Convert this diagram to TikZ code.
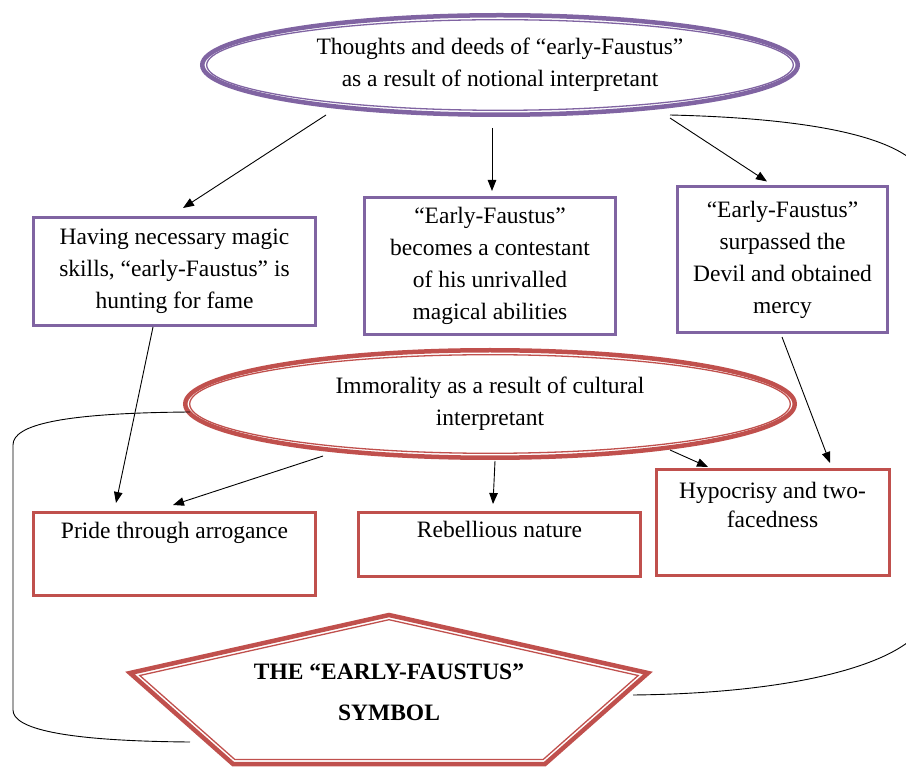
\documentclass[tikz,border=0pt]{standalone}
\usepackage{fontspec}
\setmainfont{Liberation Serif}
\usetikzlibrary{arrows.meta,calc,shapes.geometric}
\definecolor{fpurple}{HTML}{8064A2}
\definecolor{fred}{HTML}{C0504D}
\tikzset{
  txt/.style={font=\fontsize{23.5}{32}\selectfont, align=center, inner sep=0pt},
  pbox/.style={draw=fpurple, line width=3pt, inner sep=0pt, outer sep=0pt},
  rbox/.style={draw=fred, line width=3pt, inner sep=0pt, outer sep=0pt},
  oval/.style={ellipse, line width=4.5pt, inner sep=0pt, outer sep=0pt},
  arr/.style={draw=black, line width=0.9pt, -{Triangle[length=11pt,width=8.5pt]}},
  bracket/.style={draw=black, line width=0.9pt},
}
\begin{document}
\begin{tikzpicture}[x=1pt,y=-1pt]
\useasboundingbox (0,0) rectangle (906,767);
\clip (0,0) rectangle (906,767);

% ellipses
\node[oval, draw=fpurple, minimum width=595.5pt, minimum height=99.5pt, txt] (topE) at (500,65)
  {Thoughts and deeds of “early-Faustus”\\as a result of notional interpretant};
\draw[fpurple, line width=1.3pt] (topE.center) ellipse [x radius=293.3pt, y radius=45.3pt];

\node[oval, draw=fred, minimum width=609.5pt, minimum height=107.5pt, txt] (redE) at (490,404)
  {Immorality as a result of cultural\\interpretant};
\draw[fred, line width=1.3pt] (redE.center) ellipse [x radius=300.3pt, y radius=49.3pt];

% purple boxes
\node[pbox, minimum width=282pt, minimum height=108pt, txt] (b1) at (174.5,271.5)
  {Having necessary magic\\skills, “early-Faustus” is\\hunting for fame};
\node[pbox, minimum width=251pt, minimum height=137pt, txt] (b2) at (490,266)
  {“Early-Faustus”\\becomes a contestant\\of his unrivalled\\magical abilities};
\node[pbox, minimum width=210pt, minimum height=146pt, txt] (b3) at (782.5,259.5)
  {“Early-Faustus”\\surpassed the\\Devil and obtained\\mercy};

% red boxes
\node[rbox, minimum width=282pt, minimum height=83pt] (rb1) at (174.5,554) {};
\node[txt, anchor=base] (rb1t) at ($(rb1.north)+(0,26.5)$) {Pride through arrogance};
\node[rbox, minimum width=282pt, minimum height=64pt] (rb2) at (499.5,544.5) {};
\node[txt, anchor=base] (rb2t) at ($(rb2.north)+(0,24.5)$) {Rebellious nature};
\node[rbox, minimum width=233pt, minimum height=106pt] (rb3) at (772.5,522.5) {};
\node[txt, font=\fontsize{23.5}{29}\selectfont, anchor=north] (rb3t) at ($(rb3.north)+(0,12)$)
  {Hypocrisy and two-\\facedness};

% pentagon
\coordinate (pT) at (389,615);
\coordinate (pR) at (648,673);
\coordinate (pBR) at (545,764);
\coordinate (pBL) at (233,764);
\coordinate (pL) at (130,673);
\draw[fred, line width=4.5pt, line join=miter] (pT) -- (pR) -- (pBR) -- (pBL) -- (pL) -- cycle;
\coordinate (qT) at (389,619.7);
\coordinate (qR) at (638.2,675.5);
\coordinate (qBR) at (543.3,759.4);
\coordinate (qBL) at (234.7,759.4);
\coordinate (qL) at (139.8,675.5);
\draw[fred, line width=1.3pt, line join=miter] (qT) -- (qR) -- (qBR) -- (qBL) -- (qL) -- cycle;
\node[txt, font=\bfseries\fontsize{23.5}{41}\selectfont] (sym) at (389,692)
  {THE “EARLY-FAUSTUS”\\SYMBOL};

% brackets
\coordinate (lbEnd) at (190,742);
\coordinate (rbEnd) at (633,695);
\draw[bracket] ($(redE.center)+(-300,8)$) .. controls (60,413) and (13,425) .. (13,445)
  -- (13,710) .. controls (13,728) and (60,741) .. (lbEnd);
\draw[bracket] ($(topE.center)+(170,50)$) .. controls (800,118) and (928,135) .. (928,190)
  -- (928,610) .. controls (928,655) and (820,693) .. (rbEnd);

% arrows
\draw[arr] ($(topE.center)+(-174,50)$) -- ($(b1.north)+(8.5,-9.5)$);
\draw[arr] ($(topE.center)+(-8,63)$) -- ($(b2.north)+(2,-6.5)$);
\draw[arr] ($(topE.center)+(170,53)$) -- ($(b3.north)+(-15.5,-5)$);
\draw[arr] ($(b1.south)+(-21.5,1.5)$) -- ($(rb1.north)+(-58.5,-9.5)$);
\draw[arr] ($(redE.center)+(-167,52)$) -- ($(rb1.north)+(-1.5,-7.5)$);
\draw[arr] ($(redE.center)+(5,57)$) -- ($(rb2.north)+(-6.5,-8.5)$);
\draw[arr] ($(redE.center)+(180,46)$) -- ($(rb3.north)+(-64.5,-2.5)$);
\draw[arr] ($(b3.south)+(-0.5,4.5)$) -- ($(rb3.north)+(57.5,-6.5)$);
\end{tikzpicture}
\end{document}
